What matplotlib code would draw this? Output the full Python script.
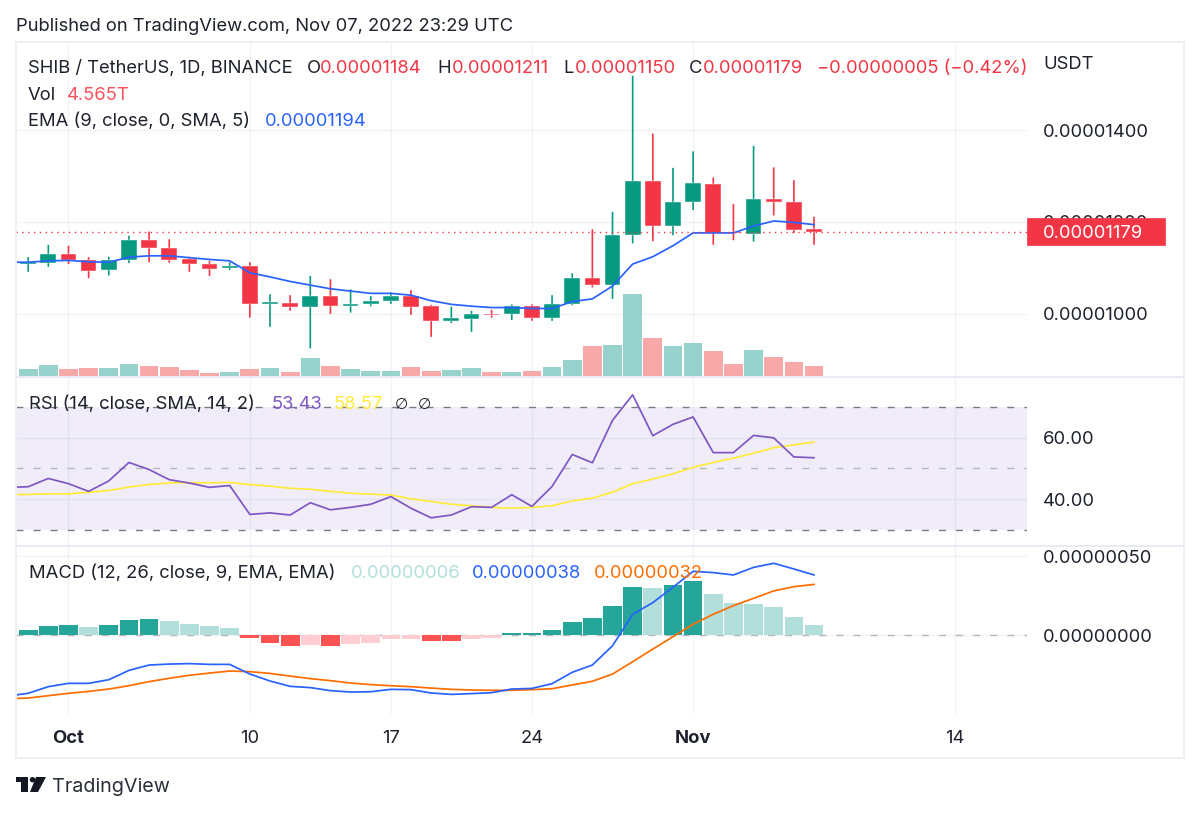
import matplotlib
matplotlib.use("Agg")
import matplotlib.pyplot as plt
import matplotlib.dates as mdates
import numpy as np
import pandas as pd
from matplotlib.patches import Rectangle, Polygon, Ellipse
from matplotlib.lines import Line2D

# ---- data (prices in 1e-8 USDT, volume in trillions, MACD in 1e-8) ----
dates = pd.date_range("2022-09-28", "2022-11-07", freq="D")
opens  = [1118,1108,1111,1131,1117,1094,1116,1160,1144,1118,1108,1099,1104,1021,1024,1015,1038,1017,1020,1027,
          1038,1016,984,989,1000,998,1016,991,1020,1078,1063,1171,1290,1190,1243,1283,1179,1173,1251,1243,1184]
highs  = [1125,1123,1150,1148,1123,1124,1170,1179,1162,1124,1115,1112,1112,1042,1040,1082,1075,1053,1038,1046,
          1051,1019,1015,1006,1008,1020,1020,1040,1088,1184,1222,1519,1393,1318,1354,1297,1239,1366,1319,1291,1211]
lows   = [1100,1091,1102,1108,1077,1083,1110,1112,1111,1091,1082,1095,991,971,1006,924,999,1002,1016,1021,
          997,949,979,960,991,986,984,984,1018,1057,1032,1153,1158,1171,1226,1150,1160,1157,1214,1176,1150]
closes = [1108,1113,1131,1116,1092,1117,1160,1144,1116,1109,1097,1104,1020,1025,1015,1038,1016,1021,1027,1039,
          1015,984,991,1000,997,1016,991,1021,1078,1062,1171,1290,1192,1243,1285,1175,1175,1251,1243,1183,1179]
volume = [4.4,3.1,4.9,3.1,3.5,3.5,5.3,4.6,4.3,2.8,1.5,1.8,3.1,3.5,1.8,7.9,4.6,3.1,2.2,2.2,4.0,2.5,2.8,3.5,1.8,1.8,
          2.2,4.0,7.4,13.2,14.0,36.3,17.1,13.5,14.6,11.2,5.6,11.5,8.4,6.3,4.565]
ema    = [1112,1112,1115,1116,1113,1112,1123,1126,1126,1122,1118,1115,1089,1080,1070,1062,1054,1049,1044,1044,
          1040,1028,1020,1016,1013,1013,1011,1011,1026,1032,1060,1108,1124,1148,1176,1176,1176,1191,1202,1199,1194]
rsi    = [43.8,44.0,46.7,45.0,42.5,45.9,51.9,49.6,46.3,45.2,43.8,44.4,35.0,35.5,34.8,38.8,36.5,37.3,38.3,40.8,
          37.0,33.9,34.8,37.5,37.3,41.4,37.6,44.1,54.5,51.8,65.6,73.9,60.6,64.3,66.7,55.1,55.1,60.7,59.9,53.7,53.43]
rsi_ma = [41.4,41.5,41.7,41.7,42.2,42.8,43.9,44.7,45.3,45.3,45.3,45.4,44.7,44.2,43.5,43.2,42.5,41.9,41.6,41.3,
          40.1,39.2,38.3,37.8,37.3,37.0,37.3,37.8,39.4,40.3,42.2,45.0,46.5,48.2,50.3,51.9,53.3,54.9,56.7,57.6,58.57]
macd   = [-38.6,-36.9,-32.7,-30.6,-30.6,-28.3,-22.4,-19.0,-18.4,-18.1,-18.6,-18.6,-24.7,-29.1,-32.5,-33.3,-35.2,-36.1,-35.9,-34.4,
          -34.6,-36.7,-37.6,-37.1,-36.5,-34.2,-33.8,-30.8,-23.6,-19.0,-6.8,13.1,20.5,30.2,40.3,39.5,38.0,42.8,45.4,41.8,38.0]
signal = [-40.3,-39.9,-38.4,-36.9,-35.7,-34.2,-32.1,-29.5,-27.4,-25.5,-24.1,-22.8,-23.2,-24.3,-26.0,-27.6,-28.9,-30.4,-31.4,-32.1,
          -32.7,-33.6,-34.4,-34.8,-35.0,-35.0,-34.6,-34.0,-31.6,-29.3,-24.7,-16.9,-8.9,-1.1,6.8,13.1,18.6,23.2,27.9,30.6,32.0]
hist   = [1.0,3.0,5.5,6.1,5.1,6.1,9.5,10.1,8.9,7.0,5.7,4.4,-1.7,-4.9,-6.8,-6.5,-6.8,-5.7,-4.9,-2.7,
          -2.3,-3.8,-3.9,-2.7,-1.7,1.0,1.0,3.0,8.0,10.5,18.4,30.4,29.8,31.9,34.0,26.0,20.0,19.4,17.9,11.4,6.3]
last_price = 1179
price_ticks = [1000, 1200, 1400]
price_tick_labels = ["0.00001000", "0.00001200", "0.00001400"]
rsi_ticks = [40, 60]
rsi_tick_labels = ["40.00", "60.00"]
macd_ticks = [0, 50]
macd_tick_labels = ["0.00000000", "0.00000050"]
time_ticks = ["2022-10-01", "2022-10-10", "2022-10-17", "2022-10-24", "2022-11-01", "2022-11-14"]
time_labels = ["Oct", "10", "17", "24", "Nov", "14"]
time_bold = ["Oct", "Nov"]

# ---- styling ----
W, H = 1200, 813
FONT = "Inter"
plt.rcParams["font.family"] = FONT
plt.rcParams["lines.scale_dashes"] = False
FS = 13.25
TXT = "#1e222d"
UP, DOWN = "#089981", "#f23645"
VUP, VDOWN = "#97d3cc", "#f7a9a9"
HUP, HUPL, HDN, HDNL = "#26a69a", "#b2dfdb", "#ff5252", "#ffcdd2"
GRID = "#2a2e60"
GRID_ALPHA = 0.055
BORDER = "#eef0f5"
DY = 1.5

fig = plt.figure(figsize=(W / 100, H / 100), dpi=100, facecolor="white")

def pane(top, bottom, left=16, right=1027, **kw):
    return fig.add_axes([left / W, 1 - bottom / H, (right - left) / W, (bottom - top) / H], **kw)

def T(x, y, s, color=TXT, ha="left", size=FS, **kw):
    return fig.text(x / W, 1 - (y + DY) / H, s, color=color, ha=ha, va="center", fontsize=size, **kw)

x = mdates.date2num(dates)
oct1 = mdates.date2num(pd.Timestamp("2022-10-01"))
xlim = (oct1 - 2.605, oct1 + 47.57)
tick_x = mdates.date2num(pd.to_datetime(time_ticks))

ax_p = pane(42, 377)
ax_r = pane(378, 546)
ax_m = pane(547, 714)

for ax in (ax_p, ax_r, ax_m):
    ax.set_xlim(*xlim)
    for s in ax.spines.values():
        s.set_visible(False)
    ax.patch.set_alpha(0)
    ax.set_xticks(tick_x)
    ax.grid(True, color=GRID, alpha=GRID_ALPHA, lw=1.0)
    ax.set_axisbelow(True)

# price pane
ax_p.set_ylim(861.4, 1592.8)
ax_p.set_yticks(price_ticks, price_tick_labels)
for xi, o, h, l, c in zip(x, opens, highs, lows, closes):
    col = UP if c >= o else DOWN
    wick = ax_p.vlines(xi, l, h, color=col, lw=1.2, zorder=3)
    wick.set_snap(False)
    ax_p.bar(xi, abs(c - o), bottom=min(o, c), width=0.78, color=col, edgecolor="white", linewidth=0.3, zorder=4)
ax_p.plot(x, ema, color="#2962ff", lw=1.25, zorder=5, solid_joinstyle="round")
ax_p.axhline(last_price, color=DOWN, lw=1.0, ls=(0, (1, 3.2)), zorder=6)

ax_v = ax_p.twinx()
ax_v.set_ylim(-0.31, 147.7)
ax_v.axis("off")
ax_v.patch.set_alpha(0)
vcols = [VUP if c >= o else VDOWN for o, c in zip(opens, closes)]
ax_v.bar(x, volume, width=0.93, color=vcols, zorder=2)

# RSI pane
ax_r.set_ylim(24.73, 79.37)
ax_r.set_yticks(rsi_ticks, rsi_tick_labels)
ax_r.axhspan(30, 70, color="#f0edf9", lw=0, zorder=0.4)
ax_r.axhline(70, color="#787b86", lw=1.0, ls=(0, (5, 7.3)), zorder=1.5)
ax_r.axhline(30, color="#787b86", lw=1.0, ls=(0, (5, 7.3)), zorder=1.5)
ax_r.axhline(50, color="#b5b6be", lw=1.0, ls=(0, (5, 7.3)), zorder=1.5)
ax_r.plot(x, rsi_ma, color="#ffeb3b", lw=1.25, zorder=3)
ax_r.plot(x, rsi, color="#7e57c2", lw=1.25, zorder=4)

# MACD pane
ax_m.set_ylim(-50, 55.7)
ax_m.set_yticks(macd_ticks, macd_tick_labels)
hcols = []
for i, v in enumerate(hist):
    prev = hist[i - 1] if i else v
    if v >= 0:
        hcols.append(HUP if v >= prev else HUPL)
    else:
        hcols.append(HDN if v <= prev else HDNL)
ax_m.axhline(0, color="#b5b6be", lw=1.0, ls=(0, (5, 7.3)), zorder=1.5)
ax_m.bar(x, hist, width=0.93, color=hcols, zorder=2)
ax_m.plot(x, signal, color="#ff6d00", lw=1.25, zorder=3)
ax_m.plot(x, macd, color="#2962ff", lw=1.25, zorder=4)

# axis tick placement (after twinx, which moves the host's ticks to the left)
for ax in (ax_p, ax_r, ax_m):
    ax.yaxis.tick_right()
    ax.tick_params(axis="both", length=0, labelsize=FS, labelcolor=TXT, pad=11.5)
    ax.tick_params(axis="x", labelbottom=False)
ax_m.tick_params(axis="x", labelbottom=True, pad=11.8)
ax_m.set_xticks(tick_x, time_labels)
for lab in ax_m.get_xticklabels():
    lab.set_fontsize(FS)
    if lab.get_text() in time_bold:
        lab.set_fontweight("bold")

# frame and separators
fig.add_artist(Rectangle((15.5 / W, 1 - 758 / H), (1184 - 15.5) / W, (758 - 42) / H, transform=fig.transFigure,
                         fill=False, edgecolor=BORDER, lw=1.4, zorder=0.5))
for yy in (377.5, 546):
    fig.add_artist(Line2D([15.5 / W, 1184 / W], [1 - yy / H] * 2, color="#e6e8f0", lw=1.3, zorder=1))

# last price tag
fig.add_artist(Rectangle((1027 / W, 1 - 245 / H), 138 / W, 27 / H, transform=fig.transFigure,
                         facecolor=DOWN, edgecolor=DOWN, lw=0.5, zorder=5))
T(1043, 231.5, "0.00001179", color="white", zorder=6)
T(1043, 63, "USDT")

# header
T(16, 25, "Published on TradingView.com, Nov 07, 2022 23:29 UTC")
T(28, 67, "SHIB / TetherUS, 1D, BINANCE")
T(307, 67, "O")
T(320, 67, "0.00001184", color=DOWN)
T(437.5, 67, "H")
T(452, 67, "0.00001211", color=DOWN)
T(563, 67, "L")
T(575, 67, "0.00001150", color=DOWN)
T(689, 67, "C")
T(703, 67, "0.00001179", color=DOWN)
T(817, 67, "\u22120.00000005 (\u22120.42%)", color=DOWN)
T(28, 94, "Vol")
T(67, 94, "4.565T", color="#f7525f")
T(28, 120, "EMA (9, close, 0, SMA, 5)")
T(265, 120, "0.00001194", color="#2962ff")

T(29, 403, "RSI (14, close, SMA, 14, 2)")
T(272, 403, "53.43", color="#7e57c2")
T(334, 403, "58.57", color="#ffeb3b")
T(395, 403, "\u2205", family="DejaVu Sans", size=11)
T(418, 403, "\u2205", family="DejaVu Sans", size=11)

T(29, 572, "MACD (12, 26, close, 9, EMA, EMA)")
T(351, 572, "0.00000006", color=HUPL)
T(472, 572, "0.00000038", color="#2962ff")
T(594, 572, "0.00000032", color="#ff6d00")

# logo
def L(pts):
    fig.add_artist(Polygon([(px / W, 1 - py / H) for px, py in pts], closed=True, transform=fig.transFigure,
                           facecolor="#131722", edgecolor="none"))
L([(16, 777), (28, 777), (28, 792), (21, 792), (21, 782), (16, 782)])
L([(36, 777), (46, 777), (38, 792), (30, 792)])
fig.add_artist(Ellipse((32.5 / W, 1 - 779.7 / H), 5.4 / W, 5.4 / H, transform=fig.transFigure,
                       facecolor="#131722", edgecolor="none"))
T(52, 785, "TradingView", size=14.2, color="#2a2e39")

fig.savefig("out.png", dpi=100, facecolor="white")
